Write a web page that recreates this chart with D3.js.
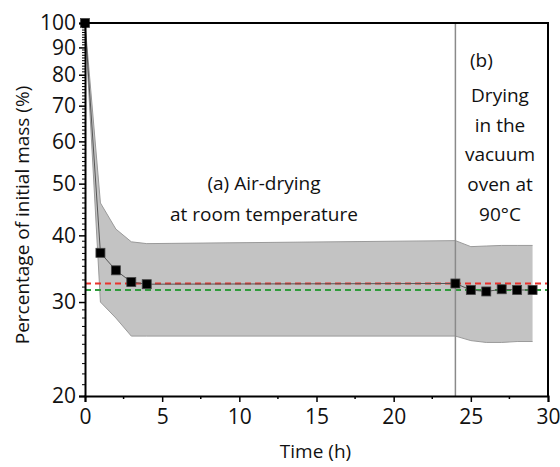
<!DOCTYPE html>
<html>
<head>
<meta charset="utf-8">
<script src="https://cdn.jsdelivr.net/npm/d3@7"></script>
<style>
  body { margin: 0; background: #fff; }
  svg text { font-family: "Open Sans", sans-serif; fill: #111; }
</style>
</head>
<body>
<div class="chart"></div>
<script>
// measured mass (%) over time (h)
const times = [0, 1, 2, 3, 4, 24, 25, 26, 27, 28, 29];
const mass = [100, 37.1, 34.4, 32.7, 32.4, 32.5, 31.6, 31.4, 31.7, 31.6, 31.6];

// shaded band (spread)
const band_x = [0, 1, 2, 3, 4, 24, 25, 26, 27, 28, 29];
const band_hi = [100, 46, 41.1, 38.9, 38.6, 39.1, 38.1, 38.2, 38.3, 38.3, 38.3];
const band_lo = [100, 30.0, 28.0, 25.9, 25.9, 25.9, 25.4, 25.2, 25.2, 25.3, 25.3];

const red_level = 32.5;
const green_level = 31.6;
const switch_time = 24;

const x_ticks = [0, 5, 10, 15, 20, 25, 30];
const x_minor = [2.5, 7.5, 12.5, 17.5, 22.5, 27.5];
const y_ticks = [20, 30, 40, 50, 60, 70, 80, 90, 100];

const label_a = ["(a) Air-drying", "at room temperature"];
const label_b = ["Drying", "in the", "vacuum", "oven at", "90°C"];

const render_chart = () => {
    const width = 560, height = 467;
    const margin = { top: 23, right: 12, bottom: 71, left: 85 };

    d3.select(".chart > *").remove();
    let svg = d3.select(".chart").append("svg")
        .attr("width", width)
        .attr("height", height);

    let x = d3.scaleLinear()
        .domain([0, 30])
        .range([margin.left, width - margin.right]);
    let y = d3.scaleLog()
        .domain([20, 100])
        .range([height - margin.bottom, margin.top]);

    let band = band_x.map((t, i) => ({ t: t, hi: band_hi[i], lo: band_lo[i] }));
    let pts = times.map((t, i) => ({ t: t, v: mass[i] }));

    // gray band
    svg.append("path")
        .datum(band)
        .attr("fill", "#c3c3c3")
        .attr("stroke", "none")
        .attr("d", d3.area()
            .x(d => x(d.t))
            .y0(d => y(d.lo))
            .y1(d => y(d.hi)));
    ["hi", "lo"].forEach(k => {
        svg.append("path")
            .datum(band)
            .attr("fill", "none")
            .attr("stroke", "#9a9a9a")
            .attr("stroke-width", 1)
            .attr("d", d3.line().x(d => x(d.t)).y(d => y(d[k])));
    });

    // reference levels
    svg.append("line")
        .attr("x1", x(0)).attr("x2", x(30))
        .attr("y1", y(red_level)).attr("y2", y(red_level))
        .attr("stroke", "#e8322c")
        .attr("stroke-width", 2)
        .attr("stroke-dasharray", "6,4");
    svg.append("line")
        .attr("x1", x(0)).attr("x2", x(30))
        .attr("y1", y(green_level)).attr("y2", y(green_level))
        .attr("stroke", "#2f9b3b")
        .attr("stroke-width", 2)
        .attr("stroke-dasharray", "6,4");

    // vertical separator
    svg.append("line")
        .attr("x1", x(switch_time)).attr("x2", x(switch_time))
        .attr("y1", y(100)).attr("y2", y(20))
        .attr("stroke", "#8a8a8a")
        .attr("stroke-width", 1.5);

    // data line + squares
    svg.append("path")
        .datum(pts)
        .attr("fill", "none")
        .attr("stroke", "#555")
        .attr("stroke-width", 1)
        .attr("d", d3.line().x(d => x(d.t)).y(d => y(d.v)));
    svg.append("g")
        .selectAll("rect")
        .data(pts)
        .join("rect")
            .attr("x", d => x(d.t) - 4.5)
            .attr("y", d => y(d.v) - 4.5)
            .attr("width", 9)
            .attr("height", 9)
            .attr("fill", "#000")
            .attr("stroke", "#444")
            .attr("stroke-width", 0.8);

    // frame (top and right)
    svg.append("path")
        .attr("d", `M${x(0)},${y(100)}H${x(30)}V${y(20)}`)
        .attr("fill", "none")
        .attr("stroke", "#000")
        .attr("stroke-width", 2);

    // X axis
    let gx = svg.append("g")
        .attr("transform", `translate(0,${y(20)})`)
        .call(d3.axisBottom(x).tickValues(x_ticks).tickSize(6).tickPadding(7));
    gx.append("g")
        .selectAll("line")
        .data(x_minor)
        .join("line")
            .attr("x1", d => x(d)).attr("x2", d => x(d))
            .attr("y1", 0).attr("y2", 3)
            .attr("stroke", "#000")
            .attr("stroke-width", 1.5);

    // Y axis
    let y_minor = d3.range(21, 100).filter(v => y_ticks.indexOf(v) < 0);
    let gy = svg.append("g")
        .attr("transform", `translate(${x(0)},0)`)
        .call(d3.axisLeft(y).tickValues(y_ticks).tickFormat(d3.format("d")).tickSize(6).tickPadding(3));
    gy.append("g")
        .selectAll("line")
        .data(y_minor)
        .join("line")
            .attr("x1", 0).attr("x2", -3)
            .attr("y1", d => y(d)).attr("y2", d => y(d))
            .attr("stroke", "#000")
            .attr("stroke-width", 1);

    [gx, gy].forEach(g => {
        g.select(".domain").attr("stroke-width", 2);
        g.selectAll(".tick line").attr("stroke-width", 1.5);
        g.selectAll(".tick text")
            .style("font-family", "'Open Sans', sans-serif")
            .style("font-size", "21px")
            .attr("fill", "#111");
    });

    // axis titles
    svg.append("text")
        .attr("x", x(15) - 1)
        .attr("y", 458)
        .attr("text-anchor", "middle")
        .style("font-size", "19px")
        .text("Time (h)");
    svg.append("text")
        .attr("transform", `translate(29,215) rotate(-90)`)
        .attr("text-anchor", "middle")
        .style("font-size", "19px")
        .text("Percentage of initial mass (%)");

    // annotations
    svg.append("g")
        .selectAll("text")
        .data(label_a)
        .join("text")
            .attr("x", 264)
            .attr("y", (d, i) => 190 + i * 31)
            .attr("text-anchor", "middle")
            .style("font-size", "19px")
            .text(d => d);
    svg.append("text")
        .attr("x", 470)
        .attr("y", 67)
        .style("font-size", "19px")
        .text("(b)");
    svg.append("g")
        .selectAll("text")
        .data(label_b)
        .join("text")
            .attr("x", 500)
            .attr("y", (d, i) => 102 + i * 29.7)
            .attr("text-anchor", "middle")
            .style("font-size", "19px")
            .text(d => d);
}

render_chart();
</script>
</body>
</html>
